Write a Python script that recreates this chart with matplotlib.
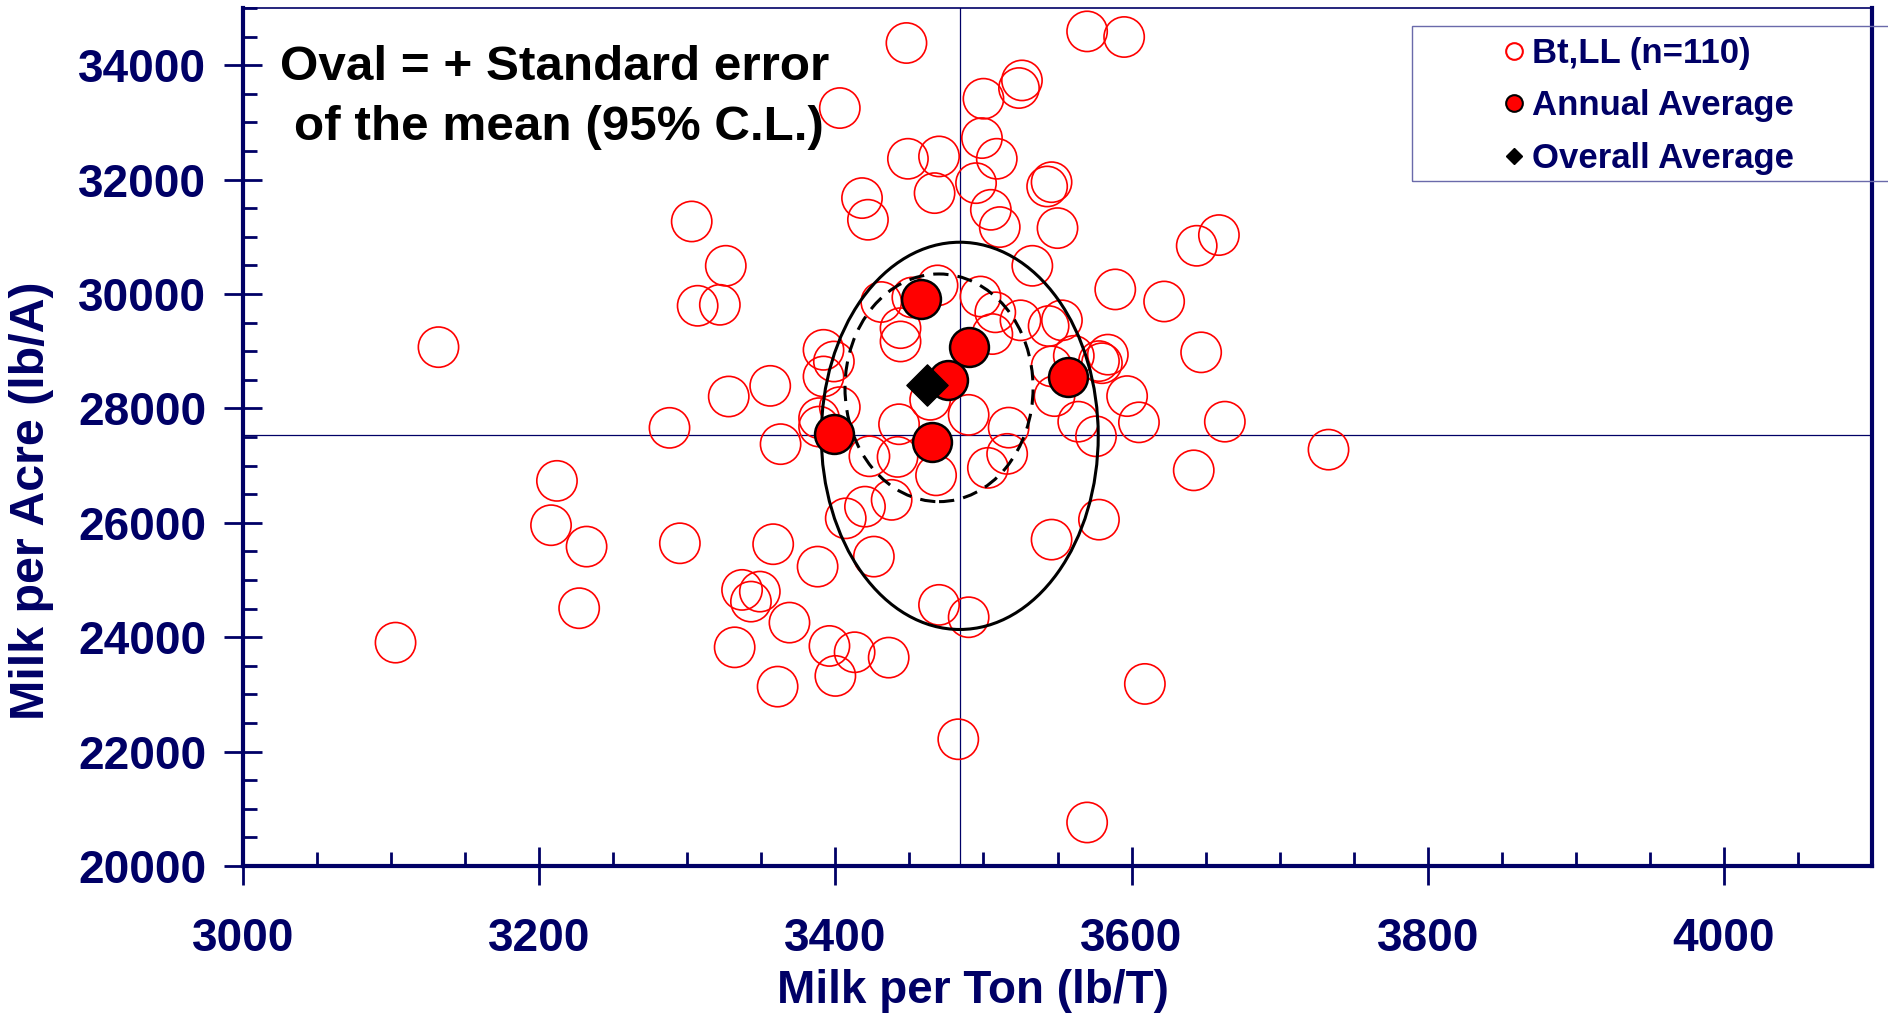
import matplotlib
matplotlib.use("Agg")
import matplotlib.pyplot as plt
from matplotlib.patches import Ellipse, Rectangle
from matplotlib.lines import Line2D
from matplotlib.ticker import MultipleLocator

plt.rcParams['font.family'] = ['Liberation Sans', 'DejaVu Sans']
plt.rcParams['font.weight'] = 'bold'

navy = '#000066'

# individual observations (Bt,LL)
bt_x = [3103, 3132, 3208, 3212, 3232, 3227, 3288, 3295, 3303, 3307,
        3322, 3326, 3328, 3356, 3363, 3358, 3337, 3349, 3343, 3369,
        3332, 3361, 3388, 3396, 3413, 3400, 3436, 3392, 3399, 3392,
        3403, 3389, 3389, 3407, 3420, 3438, 3426, 3423, 3442, 3468,
        3443, 3464, 3444, 3444, 3431, 3469, 3448, 3403, 3449, 3470,
        3467, 3418, 3422, 3470, 3490, 3483, 3490, 3503, 3500, 3499,
        3509, 3495, 3505, 3511, 3526, 3524, 3570, 3595, 3546, 3543,
        3550, 3533, 3644, 3659, 3589, 3622, 3498, 3525, 3508, 3506,
        3544, 3553, 3584, 3578, 3561, 3546, 3548, 3647, 3597, 3605,
        3564, 3576, 3663, 3733, 3642, 3517, 3516, 3578, 3546, 3609,
        3570, 3452, 3580]
bt_y = [23905, 29071, 25958, 26733, 25584, 24507, 27660, 25642, 31268, 29794,
        29811, 30493, 28208, 28394, 27375, 25626, 24827, 24797, 24622, 24255,
        23823, 23136, 25234, 23847, 23737, 23323, 23643, 29024, 28820, 28558,
        28022, 27830, 27682, 26078, 26282, 26401, 25409, 27163, 27152, 26830,
        27723, 28150, 29403, 29170, 29860, 30150, 34388, 33251, 32364, 32405,
        31764, 31677, 31298, 24565, 24349, 22216, 27887, 26960, 33414, 32726,
        32364, 31938, 31472, 31170, 33734, 33601, 34591, 34493, 31955, 31880,
        31152, 30493, 30843, 31030, 30080, 29869, 29956, 29540, 29680, 29300,
        29440, 29540, 28940, 28827, 28919, 28735, 28215, 28980, 28215, 27756,
        27768, 27512, 27768, 27279, 26917, 27664, 27205, 26055, 25706, 23183,
        20761, 29940, 28790]

# annual averages and overall average
annual_x = [3399, 3458, 3490, 3476, 3465, 3557]
annual_y = [27560, 29920, 29082, 28500, 27420, 28555]
overall_x = [3462]
overall_y = [28412]

# reference lines and standard-error ovals
cross_x, cross_y = 3484, 27537
oval_solid = (3484, 27520, 187, 6770)
oval_dash = (3470, 28360, 127, 3980)

fig = plt.figure(figsize=(18.88, 10.14), dpi=100)
ax = fig.add_axes([243/1888, 148/1014, (1872-243)/1888, (866-8)/1014])

ax.axvline(cross_x, color=navy, lw=0.9, zorder=1)
ax.axhline(cross_y, color=navy, lw=0.9, zorder=1)

ax.scatter(bt_x, bt_y, s=29**2, facecolors='none', edgecolors='#ff0000',
           linewidths=1.2, zorder=2)

cx, cy, w, h = oval_solid
ax.add_patch(Ellipse((cx, cy), w, h, fill=False, edgecolor='black', lw=2.2, zorder=3))
cx, cy, w, h = oval_dash
ax.add_patch(Ellipse((cx, cy), w, h, fill=False, edgecolor='black', lw=2.2,
                     linestyle=(0, (5, 3)), zorder=3))

ax.scatter(annual_x, annual_y, s=28**2, facecolors='#ff0000', edgecolors='black',
           linewidths=1.8, zorder=4)
ax.scatter(overall_x, overall_y, s=21**2, marker='D', color='black', zorder=5)

ax.set_xlim(3000, 4100)
ax.set_ylim(20000, 35000)
ax.xaxis.set_major_locator(MultipleLocator(200))
ax.xaxis.set_minor_locator(MultipleLocator(50))
ax.yaxis.set_major_locator(MultipleLocator(2000))
ax.yaxis.set_minor_locator(MultipleLocator(500))
ax.tick_params(which='major', direction='inout', length=27, width=2, color=navy,
               labelsize=33, labelcolor=navy)
ax.tick_params(axis='x', which='major', pad=23)
ax.tick_params(axis='y', which='major', pad=13)
ax.tick_params(which='minor', direction='in', length=10, width=2, color=navy)
for lab in ax.get_xticklabels() + ax.get_yticklabels():
    lab.set_fontweight('bold')

for side in ['left', 'bottom', 'right']:
    ax.spines[side].set_color(navy)
    ax.spines[side].set_linewidth(3)
ax.spines['top'].set_color(navy)
ax.spines['top'].set_linewidth(1.2)

fig.text(973/1888, 1 - 991/1014, 'Milk per Ton (lb/T)', ha='center', va='center',
         fontsize=33, fontweight='bold', color=navy)
fig.text(32/1888, 1 - 501/1014, 'Milk per Acre (lb/A)', ha='center', va='center',
         rotation=90, fontsize=34.8, fontweight='bold', color=navy)

fig.text(280/1888, 1 - 67/1014, 'Oval = + Standard error', ha='left', va='center',
         fontsize=35.6, fontweight='bold', color='black')
fig.text(294/1888, 1 - 127/1014, 'of the mean (95% C.L.)', ha='left', va='center',
         fontsize=35.6, fontweight='bold', color='black')

# legend box
fig.patches.append(Rectangle((1412/1888, 1 - 181/1014), 0.3, 155/1014,
                             transform=fig.transFigure, fill=False,
                             edgecolor='#6a6aaa', lw=1.0, zorder=10))
handles = [
    Line2D([], [], ls='none', marker='o', ms=12, mfc='white', mec='#ff0000', mew=1.5),
    Line2D([], [], ls='none', marker='o', ms=12, mfc='#ff0000', mec='black', mew=1.5),
    Line2D([], [], ls='none', marker='D', ms=8, color='black'),
]
labels = ['Bt,LL (n=110)', 'Annual Average', 'Overall Average']
fig.legend(handles, labels, loc='upper left', bbox_to_anchor=(1504/1888, 1 - 37/1014),
           frameon=False, borderpad=0, borderaxespad=0, handlelength=0.6,
           handletextpad=0.22, labelspacing=0.56,
           prop={'size': 25, 'weight': 'bold'}, labelcolor=navy)

fig.savefig('out.png', dpi=100)
